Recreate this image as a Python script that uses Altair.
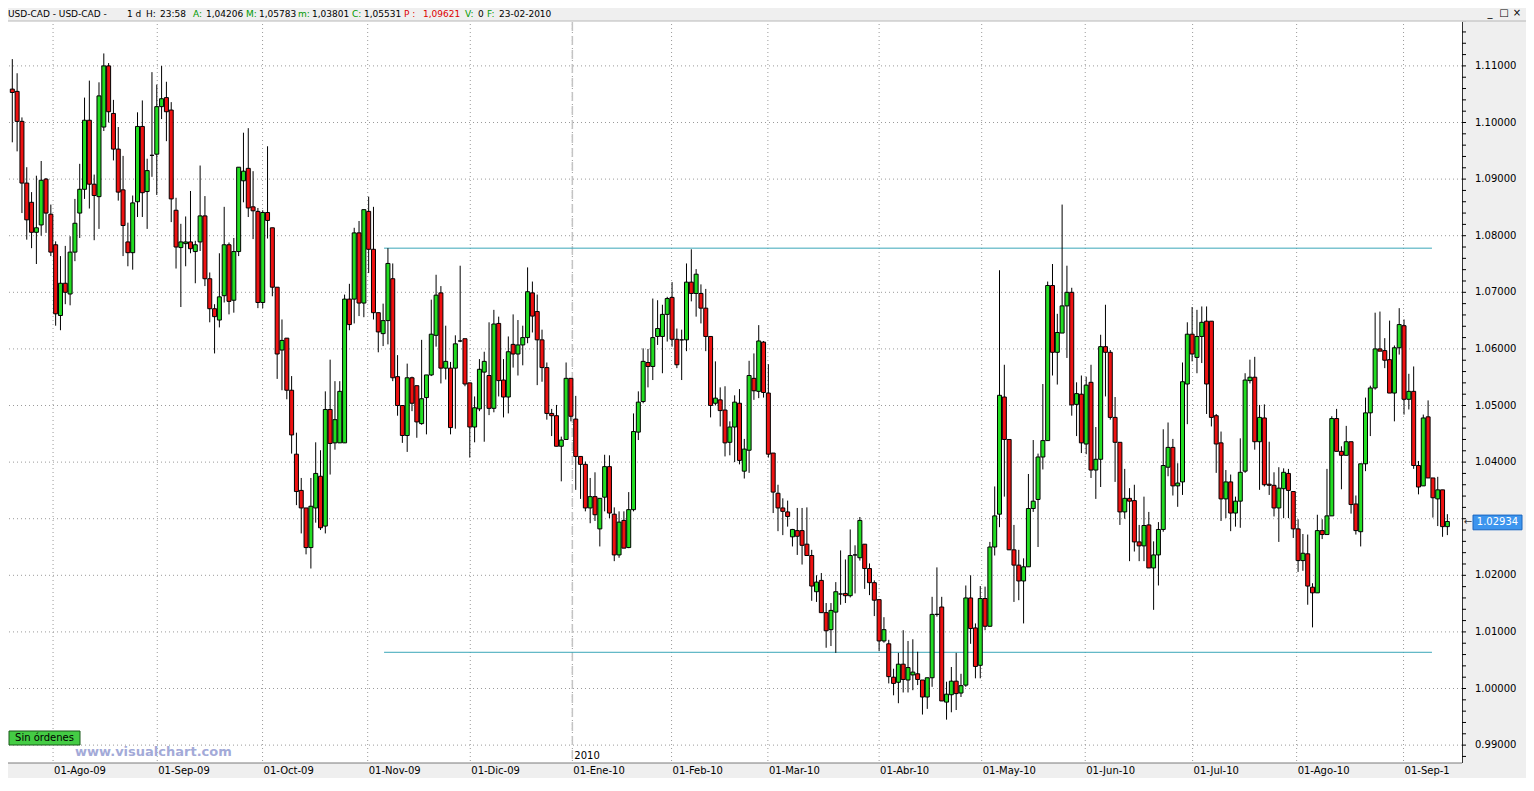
import altair as alt
import pandas as pd

# ---------------- data ----------------
OPEN = [
    1.1059, 1.1055, 1.1002, 1.0893, 1.0859, 1.0806, 1.0819, 1.0900, 1.0838, 1.0784,
    1.0659, 1.0716, 1.0697, 1.0771, 1.0840, 1.0882, 1.1004, 1.0891, 1.0869, 1.0992,
    1.1100, 1.1016, 1.0953, 1.0881, 1.0789, 1.0770, 1.0860, 1.0993, 1.0878, 1.0942,
    1.0944, 1.1028, 1.1044, 1.1022, 1.0845, 1.0779, 1.0786, 1.0789, 1.0772, 1.0789,
    1.0835, 1.0724, 1.0671, 1.0651, 1.0694, 1.0784, 1.0686, 1.0772, 1.0897, 1.0919,
    1.0851, 1.0843, 1.0682, 1.0841, 1.0814, 1.0709, 1.0598, 1.0619, 1.0527, 1.0414,
    1.0350, 1.0319, 1.0249, 1.0319, 1.0375, 1.0287, 1.0493, 1.0434, 1.0434, 1.0434,
    1.0688, 1.0688, 1.0805, 1.0681, 1.0843, 1.0776, 1.0664, 1.0627, 1.0650, 1.0724,
    1.0551, 1.0500, 1.0447, 1.0549, 1.0535, 1.0468, 1.0514, 1.0554, 1.0624, 1.0699,
    1.0566, 1.0566, 1.0566, 1.0614, 1.0618, 1.0540, 1.0462, 1.0494, 1.0559, 1.0553,
    1.0495, 1.0645, 1.0545, 1.0515, 1.0608, 1.0591, 1.0607, 1.0620, 1.0699, 1.0666,
    1.0616, 1.0567, 1.0486, 1.0482, 1.0428, 1.0440, 1.0548, 1.0476, 1.0410, 1.0396,
    1.0319, 1.0339, 1.0282, 1.0338, 1.0392, 1.0308, 1.0236, 1.0297, 1.0249, 1.0316,
    1.0453, 1.0507, 1.0576, 1.0569, 1.0622, 1.0622, 1.0661, 1.0691, 1.0617, 1.0616,
    1.0616, 1.0718, 1.0698, 1.0698, 1.0672, 1.0622, 1.0504, 1.0510, 1.0492, 1.0435,
    1.0462, 1.0504, 1.0384, 1.0421, 1.0548, 1.0525, 1.0612, 1.0522, 1.0416, 1.0345,
    1.0319, 1.0312, 1.0268, 1.0279, 1.0279, 1.0255, 1.0235, 1.0171, 1.0191, 1.0134,
    1.0104, 1.0135, 1.0167, 1.0168, 1.0164, 1.0236, 1.0231, 1.0255, 1.0212, 1.0187,
    1.0157, 1.0084, 1.0079, 1.0020, 1.0011, 1.0043, 1.0015, 1.0024, 1.0026, 1.0015,
    0.9985, 1.0019, 1.0131, 1.0144, 0.9976, 0.9989, 1.0013, 0.9992, 1.0006, 1.0160,
    1.0107, 1.0041, 1.0159, 1.0110, 1.0250, 1.0308, 1.0515, 1.0440, 1.0245, 1.0218,
    1.0190, 1.0215, 1.0318, 1.0334, 1.0409, 1.0438, 1.0712, 1.0594, 1.0628, 1.0676,
    1.0700, 1.0502, 1.0520, 1.0432, 1.0541, 1.0386, 1.0405, 1.0604, 1.0594, 1.0479,
    1.0435, 1.0312, 1.0336, 1.0332, 1.0259, 1.0252, 1.0289, 1.0213, 1.0236, 1.0281,
    1.0391, 1.0426, 1.0358, 1.0365, 1.0538, 1.0626, 1.0585, 1.0622, 1.0649, 1.0649,
    1.0482, 1.0434, 1.0335, 1.0365, 1.0310, 1.0331, 1.0384, 1.0544, 1.0550, 1.0436,
    1.0478, 1.0361, 1.0359, 1.0319, 1.0353, 1.0380, 1.0348, 1.0282, 1.0226, 1.0238,
    1.0179, 1.0169, 1.0279, 1.0272, 1.0305, 1.0477, 1.0419, 1.0412, 1.0436, 1.0326,
    1.0277, 1.0397, 1.0487, 1.0531, 1.0600, 1.0597, 1.0581, 1.0522, 1.0602, 1.0641,
    1.0511, 1.0525, 1.0394, 1.0358, 1.0480, 1.0372, 1.0335, 1.0351, 1.0286,
]
HIGH = [
    1.1112, 1.1087, 1.1009, 1.0921, 1.0877, 1.0906, 1.0932, 1.0902, 1.0855, 1.0790,
    1.0764, 1.0782, 1.0799, 1.0865, 1.0927, 1.1044, 1.1074, 1.0908, 1.1071, 1.1122,
    1.1105, 1.1040, 1.0992, 1.0941, 1.0823, 1.0871, 1.1018, 1.1039, 1.0936, 1.1089,
    1.1067, 1.1100, 1.1072, 1.1036, 1.0867, 1.0821, 1.0834, 1.0879, 1.0791, 1.0924,
    1.0870, 1.0735, 1.0679, 1.0769, 1.0851, 1.0788, 1.0796, 1.0921, 1.0982, 1.0990,
    1.0914, 1.0849, 1.0845, 1.0958, 1.0814, 1.0709, 1.0652, 1.0619, 1.0552, 1.0452,
    1.0372, 1.0319, 1.0372, 1.0435, 1.0421, 1.0525, 1.0581, 1.0543, 1.0543, 1.0696,
    1.0715, 1.0814, 1.0826, 1.0846, 1.0869, 1.0851, 1.0664, 1.0680, 1.0778, 1.0751,
    1.0589, 1.0500, 1.0574, 1.0551, 1.0535, 1.0616, 1.0554, 1.0687, 1.0731, 1.0711,
    1.0641, 1.0577, 1.0624, 1.0747, 1.0618, 1.0540, 1.0516, 1.0582, 1.0595, 1.0647,
    1.0669, 1.0657, 1.0582, 1.0622, 1.0661, 1.0651, 1.0641, 1.0744, 1.0719, 1.0696,
    1.0634, 1.0576, 1.0494, 1.0501, 1.0445, 1.0576, 1.0548, 1.0517, 1.0410, 1.0401,
    1.0372, 1.0382, 1.0336, 1.0413, 1.0412, 1.0320, 1.0313, 1.0313, 1.0347, 1.0486,
    1.0525, 1.0601, 1.0600, 1.0689, 1.0686, 1.0678, 1.0692, 1.0718, 1.0636, 1.0634,
    1.0751, 1.0776, 1.0741, 1.0714, 1.0706, 1.0622, 1.0578, 1.0532, 1.0534, 1.0472,
    1.0518, 1.0529, 1.0441, 1.0579, 1.0592, 1.0642, 1.0614, 1.0573, 1.0416, 1.0360,
    1.0336, 1.0332, 1.0282, 1.0319, 1.0319, 1.0320, 1.0245, 1.0200, 1.0204, 1.0151,
    1.0151, 1.0188, 1.0244, 1.0228, 1.0281, 1.0253, 1.0303, 1.0255, 1.0221, 1.0191,
    1.0157, 1.0126, 1.0086, 1.0035, 1.0063, 1.0103, 1.0084, 1.0087, 1.0065, 1.0015,
    1.0019, 1.0162, 1.0214, 1.0162, 1.0012, 1.0038, 1.0063, 1.0026, 1.0182, 1.0200,
    1.0115, 1.0181, 1.0180, 1.0259, 1.0357, 1.0739, 1.0572, 1.0440, 1.0289, 1.0245,
    1.0230, 1.0379, 1.0439, 1.0415, 1.0538, 1.0719, 1.0750, 1.0662, 1.0855, 1.0747,
    1.0708, 1.0541, 1.0553, 1.0551, 1.0572, 1.0462, 1.0625, 1.0678, 1.0598, 1.0515,
    1.0435, 1.0388, 1.0354, 1.0360, 1.0289, 1.0339, 1.0312, 1.0260, 1.0294, 1.0458,
    1.0470, 1.0441, 1.0398, 1.0576, 1.0647, 1.0674, 1.0669, 1.0675, 1.0675, 1.0649,
    1.0485, 1.0454, 1.0386, 1.0378, 1.0339, 1.0442, 1.0557, 1.0581, 1.0586, 1.0501,
    1.0502, 1.0436, 1.0382, 1.0391, 1.0389, 1.0388, 1.0348, 1.0299, 1.0273, 1.0272,
    1.0186, 1.0307, 1.0299, 1.0388, 1.0481, 1.0494, 1.0428, 1.0464, 1.0436, 1.0341,
    1.0397, 1.0514, 1.0535, 1.0664, 1.0666, 1.0619, 1.0650, 1.0606, 1.0672, 1.0652,
    1.0556, 1.0569, 1.0402, 1.0484, 1.0509, 1.0372, 1.0374, 1.0351, 1.0308,
]
LOW = [
    1.0965, 1.0949, 1.0840, 1.0793, 1.0778, 1.0750, 1.0800, 1.0805, 1.0764, 1.0641,
    1.0633, 1.0679, 1.0677, 1.0755, 1.0796, 1.0865, 1.0848, 1.0792, 1.0812, 1.0985,
    1.1000, 1.0933, 1.0862, 1.0764, 1.0746, 1.0740, 1.0833, 1.0833, 1.0812, 1.0904,
    1.0872, 1.1006, 1.0967, 1.0824, 1.0742, 1.0674, 1.0746, 1.0769, 1.0716, 1.0773,
    1.0711, 1.0647, 1.0592, 1.0638, 1.0682, 1.0661, 1.0664, 1.0764, 1.0859, 1.0833,
    1.0794, 1.0672, 1.0672, 1.0795, 1.0693, 1.0547, 1.0527, 1.0511, 1.0415, 1.0324,
    1.0274, 1.0237, 1.0212, 1.0293, 1.0280, 1.0274, 1.0378, 1.0422, 1.0434, 1.0434,
    1.0633, 1.0645, 1.0658, 1.0656, 1.0734, 1.0652, 1.0594, 1.0605, 1.0608, 1.0543,
    1.0482, 1.0434, 1.0418, 1.0490, 1.0443, 1.0466, 1.0449, 1.0552, 1.0604, 1.0539,
    1.0546, 1.0449, 1.0459, 1.0612, 1.0534, 1.0408, 1.0435, 1.0490, 1.0436, 1.0483,
    1.0488, 1.0516, 1.0479, 1.0486, 1.0567, 1.0553, 1.0571, 1.0610, 1.0629, 1.0536,
    1.0542, 1.0475, 1.0446, 1.0428, 1.0366, 1.0440, 1.0472, 1.0351, 1.0335, 1.0313,
    1.0292, 1.0296, 1.0251, 1.0313, 1.0301, 1.0225, 1.0231, 1.0248, 1.0248, 1.0313,
    1.0439, 1.0504, 1.0532, 1.0545, 1.0607, 1.0557, 1.0613, 1.0604, 1.0566, 1.0545,
    1.0596, 1.0684, 1.0657, 1.0645, 1.0596, 1.0479, 1.0500, 1.0463, 1.0410, 1.0412,
    1.0400, 1.0396, 1.0371, 1.0381, 1.0510, 1.0513, 1.0514, 1.0408, 1.0310, 1.0278,
    1.0271, 1.0286, 1.0251, 1.0236, 1.0219, 1.0235, 1.0155, 1.0153, 1.0134, 1.0072,
    1.0075, 1.0063, 1.0148, 1.0151, 1.0161, 1.0168, 1.0226, 1.0176, 1.0165, 1.0128,
    1.0066, 1.0081, 1.0009, 0.9988, 0.9974, 0.9993, 0.9993, 0.9997, 1.0006, 0.9954,
    0.9964, 1.0003, 1.0127, 0.9978, 0.9945, 0.9958, 0.9962, 0.9985, 1.0003, 1.0079,
    1.0018, 1.0018, 1.0103, 1.0109, 1.0235, 1.0285, 1.0339, 1.0245, 1.0153, 1.0156,
    1.0115, 1.0215, 1.0312, 1.0250, 1.0387, 1.0438, 1.0553, 1.0537, 1.0628, 1.0584,
    1.0482, 1.0446, 1.0416, 1.0414, 1.0372, 1.0335, 1.0356, 1.0516, 1.0475, 1.0365,
    1.0289, 1.0300, 1.0225, 1.0242, 1.0225, 1.0225, 1.0213, 1.0139, 1.0182, 1.0277,
    1.0375, 1.0341, 1.0321, 1.0342, 1.0467, 1.0578, 1.0557, 1.0575, 1.0485, 1.0463,
    1.0381, 1.0296, 1.0301, 1.0278, 1.0286, 1.0284, 1.0381, 1.0539, 1.0422, 1.0351,
    1.0357, 1.0342, 1.0304, 1.0259, 1.0301, 1.0301, 1.0266, 1.0206, 1.0208, 1.0148,
    1.0108, 1.0169, 1.0264, 1.0272, 1.0305, 1.0419, 1.0352, 1.0412, 1.0309, 1.0272,
    1.0251, 1.0384, 1.0446, 1.0528, 1.0596, 1.0566, 1.0522, 1.0472, 1.0590, 1.0484,
    1.0493, 1.0388, 1.0343, 1.0358, 1.0372, 1.0302, 1.0287, 1.0268, 1.0271,
]
CLOSE = [
    1.1053, 1.1002, 1.0893, 1.0828, 1.0806, 1.0814, 1.0898, 1.0840, 1.0771, 1.0662,
    1.0716, 1.0700, 1.0771, 1.0822, 1.0882, 1.1004, 1.0891, 1.0871, 1.1047, 1.1100,
    1.1019, 1.0953, 1.0877, 1.0818, 1.0770, 1.0858, 1.0993, 1.0876, 1.0915, 1.0942,
    1.1028, 1.1042, 1.1019, 1.0865, 1.0780, 1.0789, 1.0789, 1.0777, 1.0784, 1.0835,
    1.0724, 1.0671, 1.0657, 1.0692, 1.0784, 1.0684, 1.0772, 1.0921, 1.0914, 1.0849,
    1.0844, 1.0682, 1.0841, 1.0827, 1.0709, 1.0591, 1.0615, 1.0527, 1.0448, 1.0348,
    1.0319, 1.0249, 1.0322, 1.0380, 1.0284, 1.0493, 1.0433, 1.0475, 1.0525, 1.0688,
    1.0643, 1.0805, 1.0681, 1.0846, 1.0776, 1.0664, 1.0630, 1.0650, 1.0751, 1.0549,
    1.0500, 1.0447, 1.0549, 1.0504, 1.0471, 1.0512, 1.0554, 1.0626, 1.0695, 1.0566,
    1.0578, 1.0461, 1.0609, 1.0614, 1.0538, 1.0462, 1.0496, 1.0564, 1.0578, 1.0495,
    1.0644, 1.0544, 1.0515, 1.0595, 1.0591, 1.0607, 1.0620, 1.0701, 1.0658, 1.0616,
    1.0567, 1.0486, 1.0482, 1.0428, 1.0439, 1.0548, 1.0481, 1.0410, 1.0396, 1.0319,
    1.0339, 1.0307, 1.0336, 1.0392, 1.0310, 1.0236, 1.0294, 1.0248, 1.0316, 1.0454,
    1.0506, 1.0578, 1.0569, 1.0620, 1.0636, 1.0661, 1.0689, 1.0617, 1.0572, 1.0616,
    1.0718, 1.0698, 1.0732, 1.0672, 1.0622, 1.0500, 1.0513, 1.0491, 1.0434, 1.0462,
    1.0506, 1.0403, 1.0423, 1.0553, 1.0526, 1.0614, 1.0523, 1.0414, 1.0347, 1.0319,
    1.0313, 1.0304, 1.0281, 1.0269, 1.0253, 1.0235, 1.0181, 1.0188, 1.0134, 1.0102,
    1.0138, 1.0171, 1.0167, 1.0164, 1.0235, 1.0236, 1.0297, 1.0212, 1.0187, 1.0156,
    1.0084, 1.0104, 1.0021, 1.0009, 1.0043, 1.0016, 1.0037, 1.0029, 1.0016, 0.9985,
    1.0019, 1.0131, 1.0131, 0.9978, 0.9990, 1.0013, 0.9991, 1.0005, 1.0160, 1.0106,
    1.0039, 1.0159, 1.0110, 1.0250, 1.0305, 1.0518, 1.0440, 1.0245, 1.0218, 1.0190,
    1.0215, 1.0318, 1.0331, 1.0409, 1.0438, 1.0712, 1.0594, 1.0629, 1.0676, 1.0700,
    1.0501, 1.0521, 1.0434, 1.0536, 1.0386, 1.0405, 1.0604, 1.0594, 1.0479, 1.0435,
    1.0312, 1.0336, 1.0331, 1.0259, 1.0252, 1.0288, 1.0213, 1.0236, 1.0281, 1.0394,
    1.0426, 1.0358, 1.0363, 1.0542, 1.0626, 1.0591, 1.0622, 1.0647, 1.0538, 1.0479,
    1.0432, 1.0335, 1.0365, 1.0310, 1.0331, 1.0382, 1.0545, 1.0550, 1.0436, 1.0479,
    1.0360, 1.0359, 1.0319, 1.0354, 1.0382, 1.0350, 1.0282, 1.0226, 1.0239, 1.0181,
    1.0169, 1.0279, 1.0272, 1.0305, 1.0477, 1.0419, 1.0412, 1.0436, 1.0325, 1.0279,
    1.0397, 1.0487, 1.0531, 1.0600, 1.0596, 1.0580, 1.0522, 1.0602, 1.0643, 1.0511,
    1.0525, 1.0394, 1.0356, 1.0478, 1.0372, 1.0337, 1.0351, 1.0286, 1.0295,
]

# month boundaries, expressed as bar positions
MONTH_POS = [8.46, 30.1, 51.97, 73.8, 95.1, 116.3, 136.9, 156.9, 180.0, 201.3,
             222.8, 245.1, 266.7, 288.9]
MONTH_LABELS = ["01-Ago-09", "01-Sep-09", "01-Oct-09", "01-Nov-09", "01-Dic-09",
                "01-Ene-10", "01-Feb-10", "01-Mar-10", "01-Abr-10", "01-May-10",
                "01-Jun-10", "01-Jul-10", "01-Ago-10", "01-Sep-1"]
YEAR_POS = [116.3]
YEAR_LABEL = ["2010"]

# horizontal support / resistance lines
LEVEL_PRICE = [1.0778, 1.0064]
LEVEL_FROM = [77.2, 77.2]
LEVEL_TO = [294.8, 294.8]

PRICE_GRID = [0.99, 1.00, 1.01, 1.02, 1.03, 1.04, 1.05, 1.06, 1.07, 1.08, 1.09, 1.10, 1.11]
# 1.03000 is hidden behind the last-price marker in the reference
PRICE_LABELS = [0.99, 1.00, 1.01, 1.02, 1.04, 1.05, 1.06, 1.07, 1.08, 1.09, 1.10, 1.11]
PRICE_MINOR = [round(0.988 + 0.002 * k, 3) for k in range(66)]
LAST_PRICE = [1.02934]
LAST_LABEL = ["1.02934"]

HEADER_TEXT = ["USD-CAD - USD-CAD -", "1 d", "H:", "23:58", "A:", "1,04206", "M:", "1,05783",
               "m:", "1,03801", "C:", "1,05531", "P :", "1,09621", "V:", "0", "F:", "23-02-2010"]

# ---------------- layout ----------------
W, Hh = 1454, 755
FONT = "DejaVu Sans"
GREEN, RED, TEAL = "#22dd22", "#ee1111", "#3aa6b8"
HEADER_X = [0, 119, 138, 152, 185, 198, 238, 251, 290, 304, 344, 356, 396, 415, 457, 470, 479, 491]
HEADER_COL = ["#000000", "#000000", "#000000", "#000000", "#009900", "#000000", "#009900", "#000000",
              "#009900", "#000000", "#009900", "#000000", "#dd0000", "#dd0000", "#009900", "#000000",
              "#009900", "#000000"]

xscale = alt.Scale(domain=[0.144, 300.0], nice=False, zero=False)
yscale = alt.Scale(domain=[0.98684, 1.12023], nice=False, zero=False)


def X(field):
    return alt.X(field, scale=xscale, axis=None)


def Y(field):
    return alt.Y(field, scale=yscale, axis=None)


df = pd.DataFrame({"i": list(range(len(OPEN))), "o": OPEN, "h": HIGH, "l": LOW, "c": CLOSE})
mdf = pd.DataFrame({"p": MONTH_POS, "t": MONTH_LABELS})
gdf = pd.DataFrame({"p": PRICE_GRID})
ldf = pd.DataFrame({"p": PRICE_LABELS})
one = pd.DataFrame({"k": [0]})

# grids
grid_h = alt.Chart(gdf).mark_rule(color="#9a9a9a", strokeDash=[1, 3], strokeWidth=1).encode(y=Y("p:Q"))
grid_v = alt.Chart(mdf).mark_rule(color="#9a9a9a", strokeDash=[1, 3], strokeWidth=1).encode(x=X("p:Q"))

ydf = pd.DataFrame({"p": YEAR_POS, "t": YEAR_LABEL})
year_line = alt.Chart(ydf).mark_rule(color="#c4c4c4", strokeDash=[9, 5], strokeWidth=1.5).encode(x=X("p:Q"))
year_text = alt.Chart(ydf).mark_text(
    align="left", baseline="middle", font=FONT, fontSize=10, color="#000000", dx=2
).encode(x=X("p:Q"), y=alt.value(Hh - 7), text="t:N")

levels = alt.Chart(pd.DataFrame({"a": LEVEL_FROM, "b": LEVEL_TO, "p": LEVEL_PRICE})).mark_rule(
    color=TEAL, strokeWidth=1
).encode(x=X("a:Q"), x2="b:Q", y=Y("p:Q"))

wicks = alt.Chart(df).mark_rule(color="#000000", strokeWidth=1).encode(
    x=X("i:Q"), y=Y("l:Q"), y2="h:Q")

bodies = alt.Chart(df).mark_bar(size=4, stroke="#000000", strokeWidth=1).encode(
    x=X("i:Q"), y=Y("o:Q"), y2="c:Q",
    fill=alt.condition("datum.c >= datum.o", alt.value(GREEN), alt.value(RED)),
)

# axes drawn by hand (bottom dates, right prices)
x_domain = alt.Chart(one).mark_rule(color="#7a7a7a", strokeWidth=1).encode(
    x=alt.value(0), x2=alt.value(W), y=alt.value(Hh))
y_domain = alt.Chart(one).mark_rule(color="#333333", strokeWidth=1).encode(
    x=alt.value(W + 0.5), y=alt.value(14), y2=alt.value(Hh))
x_labels = alt.Chart(mdf).mark_text(
    align="left", baseline="middle", font=FONT, fontSize=10, color="#000000", dx=1
).encode(x=X("p:Q"), y=alt.value(Hh + 8), text="t:N")
y_ticks = alt.Chart(pd.DataFrame({"p": PRICE_MINOR})).mark_rule(color="#000000", strokeWidth=1).encode(
    y=Y("p:Q"), x=alt.value(W), x2=alt.value(W + 4))
y_labels = alt.Chart(ldf).mark_text(
    align="left", baseline="middle", font=FONT, fontSize=10, color="#000000"
).encode(y=Y("p:Q"), x=alt.value(W + 13), text=alt.Text("p:Q", format=".5f"))

# decorations
header_bg = alt.Chart(one).mark_rect(color="#efefef", stroke="#b8b8b8", strokeWidth=1).encode(
    x=alt.value(-10), x2=alt.value(W + 70), y=alt.value(-2), y2=alt.value(13))
header_layers = [
    alt.Chart(one).mark_text(align="left", baseline="middle", font=FONT, fontSize=9, color=col).encode(
        x=alt.value(px), y=alt.value(6), text=alt.value(t))
    for t, px, col in zip(HEADER_TEXT, HEADER_X, HEADER_COL)
]
win_layers = [
    alt.Chart(one).mark_text(align="center", baseline="middle", font=FONT, fontSize=10,
                             color="#000000").encode(x=alt.value(px), y=alt.value(5), text=alt.value(t))
    for t, px in zip(["_", "\u25a1", "\u00d7"], [1482, 1496, 1509])
]

lp = pd.DataFrame({"p": LAST_PRICE, "t": LAST_LABEL})
last_box = alt.Chart(lp).transform_calculate(top="datum.p + 0.0013", bot="datum.p - 0.0013").mark_rect(
    color="#3d95ee", stroke="#1b66c0", strokeWidth=1
).encode(x=alt.value(W + 11), x2=alt.value(W + 60), y=Y("top:Q"), y2="bot:Q")
last_txt = alt.Chart(lp).mark_text(align="center", baseline="middle", font=FONT, fontSize=10,
                                   color="#ffffff").encode(x=alt.value(W + 35.5), y=Y("p:Q"), text="t:N")
last_arrow = alt.Chart(lp).mark_text(align="center", baseline="middle", font=FONT, fontSize=10,
                                     color="#333333").encode(x=alt.value(W + 6), y=Y("p:Q"),
                                                             text=alt.value("\u2190"))

orders_box = alt.Chart(one).mark_rect(color="#44cc44", stroke="#1a5a1a", strokeWidth=1).encode(
    x=alt.value(1), x2=alt.value(72), y=alt.value(723), y2=alt.value(737))
orders_txt = alt.Chart(one).mark_text(align="center", baseline="middle", font=FONT, fontSize=10,
                                      color="#000000").encode(
    x=alt.value(36.5), y=alt.value(730), text=alt.value("Sin órdenes"))
watermark = alt.Chart(one).mark_text(align="left", baseline="middle", font=FONT, fontSize=13,
                                     fontWeight="bold", color="#a3aad8").encode(
    x=alt.value(67), y=alt.value(744), text=alt.value("www.visualchart.com"))

chart = alt.layer(
    grid_h, grid_v, year_line, levels, wicks, bodies, year_text,
    orders_box, orders_txt, watermark,
    x_domain, y_domain, x_labels, y_ticks, y_labels,
    header_bg, *header_layers, *win_layers,
    last_box, last_txt, last_arrow,
).properties(
    width=W, height=Hh,
    padding={"left": 0, "top": 0, "right": 64, "bottom": 15},
    autosize=alt.AutoSizeParams(type="none"),
    background="#efefef",
).configure_view(fill="#ffffff", strokeWidth=0)

chart.save("out.html", embed_options={"renderer": "svg", "actions": False})
